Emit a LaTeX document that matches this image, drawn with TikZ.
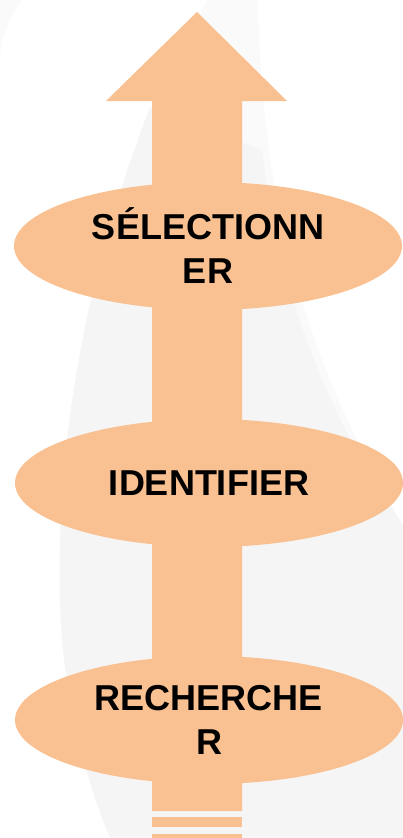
\documentclass[tikz,border=0pt]{standalone}
\usepackage{fontspec}
\setmainfont{Liberation Sans}
\usetikzlibrary{shapes.geometric}
\definecolor{peach}{HTML}{F9C191}
\definecolor{swoosh}{HTML}{F5F5F5}
\definecolor{swooshlight}{HTML}{FAFAFA}
\tikzset{
	step oval/.style={ellipse, fill=peach, minimum width=388pt, minimum height=128pt, inner sep=0pt, align=center, font=\fontsize{36}{44}\selectfont\bfseries}
}

\begin{document}
\begin{tikzpicture}[x=1pt, y=-1pt]
			\useasboundingbox (0, 0) rectangle (403, 838);
			% pale background swooshes
			\fill[swooshlight] (207, 0) .. controls (120, 180) and (55, 400) .. (60, 600) .. controls (62, 700) and (90, 790) .. (110, 838) -- (403, 838) -- (403, 525) .. controls (330, 400) and (262, 250) .. (258, 0) -- cycle;
			\fill[swoosh] (150, 107) .. controls (95, 250) and (55, 420) .. (60, 600) .. controls (62, 700) and (90, 790) .. (110, 838) -- (403, 838) -- (403, 525) .. controls (330, 420) and (280, 300) .. (262, 150) -- cycle;
			\fill[swooshlight] (0, 0) -- (22, 0) .. controls (10, 15) and (3, 35) .. (0, 55) -- cycle;
			% arrow
			\coordinate (TIP) at (197, 12);
			\fill[peach] (TIP) -- (287, 101) -- (242, 101) -- (242, 811) -- (152, 811) -- (152, 101) -- (106, 101) -- cycle;
			\fill[peach] (152, 817) rectangle (242, 827);
			\fill[peach] (152, 834) rectangle (242, 840);
			% steps
			\node[step oval] (SEL)at(208, 246) {SÉLECTIONN\\ER};
			\node[step oval] (IDEN)at(209, 483) {IDENTIFIER};
			\node[step oval] (RECH)at(209, 720) {RECHERCHE\\R};
		\end{tikzpicture}
\end{document}
